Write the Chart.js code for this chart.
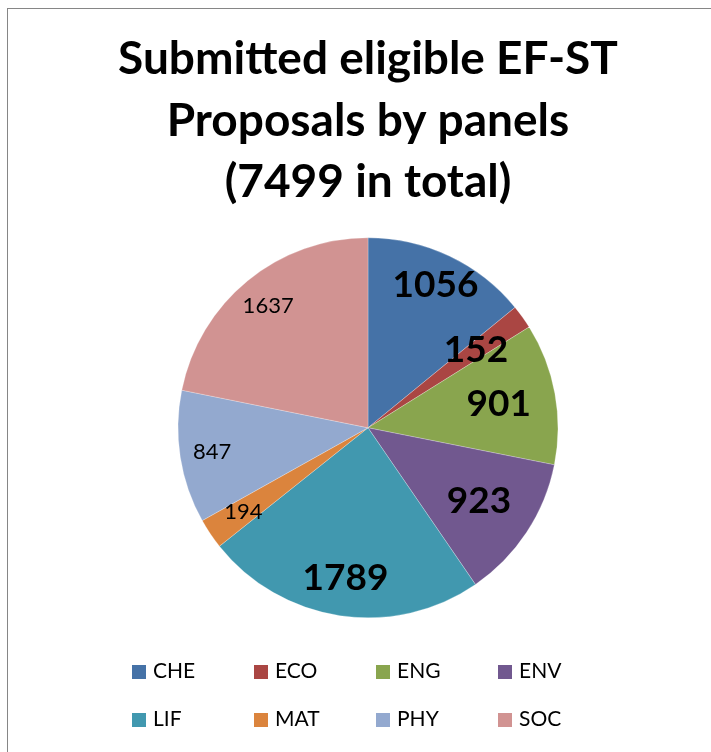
<!DOCTYPE html>
<html>
<head>
<meta charset="utf-8">
<script src="https://cdn.jsdelivr.net/npm/chart.js@4/dist/chart.umd.min.js"></script>
<style>
    html, body { margin: 0; padding: 0; background: #fff; overflow: hidden; }
    #frame {
        position: absolute; left: 7px; top: 8px;
        width: 730px; height: 760px;
        border: 1px solid #868686; background: #fff;
    }
    #wrap { position: absolute; left: 0; top: 0; width: 720px; height: 744px; }
    .legend-item {
        position: absolute; font-family: Lato, sans-serif; font-size: 21px; color: #000;
        line-height: 24px; white-space: nowrap;
    }
    .legend-item span.box {
        display: inline-block; width: 14px; height: 14px; margin-right: 7px; vertical-align: -1px;
    }
</style>
</head>
<body>
<div id="frame">
    <div id="wrap"><canvas id="pieChart"></canvas></div>
</div>
<script>
// panels and their proposal counts
var panels = ['CHE', 'ECO', 'ENG', 'ENV', 'LIF', 'MAT', 'PHY', 'SOC'];
var proposals = [1056, 152, 901, 923, 1789, 194, 847, 1637];
var titleLines = ['Submitted eligible EF-ST', 'Proposals by panels', '(7499 in total)'];

var colors = ['#4572A7', '#AA4643', '#89A54E', '#71588F', '#4198AF', '#DB843D', '#93A9CF', '#D19392'];

// label look, per slice (Excel-style mix of big bold and small plain labels)
var labelRadius = [0.83, 0.70, 0.70, 0.70, 0.80, 0.79, 0.83, 0.83];
var labelBig = [true, true, true, true, true, false, false, false];

// draws the value inside each slice
var sliceLabels = {
    id: 'sliceLabels',
    afterDatasetsDraw: function (chart) {
        var ctx = chart.ctx;
        var meta = chart.getDatasetMeta(0);
        ctx.save();
        ctx.textAlign = 'center';
        ctx.textBaseline = 'middle';
        ctx.fillStyle = '#000';
        meta.data.forEach(function (arc, i) {
            var p = arc.getProps(['x', 'y', 'startAngle', 'endAngle', 'outerRadius'], true);
            var mid = (p.startAngle + p.endAngle) / 2;
            var r = p.outerRadius * labelRadius[i];
            ctx.font = labelBig[i] ? 'bold 37px Lato, sans-serif' : '22px Lato, sans-serif';
            ctx.fillText(String(chart.data.datasets[0].data[i]), p.x + Math.cos(mid) * r, p.y + Math.sin(mid) * r);
        });
        ctx.restore();
    }
};

var ctx = document.getElementById('pieChart').getContext('2d');
var pieChart = new Chart(ctx, {
    type: 'pie',
    data: {
        labels: panels,
        datasets: [{
            data: proposals,
            backgroundColor: colors,
            borderColor: 'rgba(255,255,255,0.5)',
            borderWidth: 0.5
        }]
    },
    options: {
        responsive: true,
        maintainAspectRatio: false,
        animation: false,
        layout: {
            padding: { left: 0, right: 0, top: 0, bottom: 135 }
        },
        plugins: {
            legend: { display: false },
            tooltip: { enabled: false },
            title: {
                display: true,
                text: titleLines,
                color: '#000',
                font: { family: 'Lato, sans-serif', size: 46, weight: 'bold', lineHeight: 1.33 },
                padding: { top: 20, bottom: 25 }
            }
        }
    },
    plugins: [sliceLabels]
});

// legend, 4 per row
var frame = document.getElementById('frame');
panels.forEach(function (name, i) {
    var item = document.createElement('div');
    item.className = 'legend-item';
    item.style.left = (124 + (i % 4) * 122) + 'px';
    item.style.top = (649 + Math.floor(i / 4) * 48) + 'px';
    item.innerHTML = '<span class="box" style="background:' + colors[i] + '"></span>' + name;
    frame.appendChild(item);
});
</script>
</body>
</html>
